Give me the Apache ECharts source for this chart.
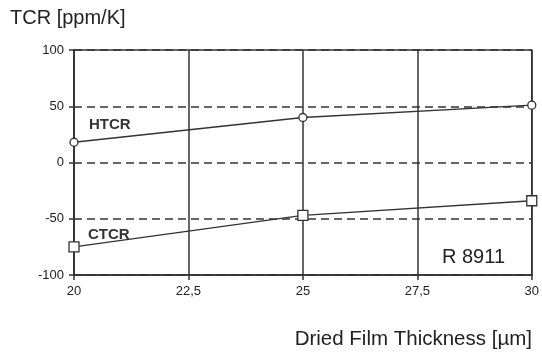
<!DOCTYPE html>
<html><head><meta charset="utf-8">
<script src="https://cdn.jsdelivr.net/npm/echarts@6/dist/echarts.min.js"></script>
<style>html,body{margin:0;padding:0;background:#fff}#c{width:542px;height:356px}</style>
</head><body><div id="c"></div>
<script>
const thickness = [20, 25, 30];
const htcr = [18, 40, 51];
const ctcr = [-75, -47, -34];
const xTicks = ['20', '22,5', '25', '27,5', '30'];
const yTicks = [-100, -50, 0, 50, 100];

const ink = '#333';
const font = 'Liberation Sans, Arial, sans-serif';
const chart = echarts.init(document.getElementById('c'));
chart.setOption({
  animation: false,
  grid: {left: 74, right: 10, top: 50, bottom: 81, show: true, borderColor: ink, borderWidth: 1.5},
  xAxis: {
    type: 'value', min: 20, max: 30, interval: 2.5,
    axisLine: {show: true, onZero: false, lineStyle: {color: ink, width: 1.5}},
    axisTick: {show: true, length: 5, lineStyle: {color: ink, width: 1.5}},
    axisLabel: {color: '#222', fontSize: 13, fontFamily: font, margin: 10,
      formatter: v => xTicks[Math.round((v - 20) / 2.5)]},
    splitLine: {show: true, lineStyle: {color: ink, width: 1.5}}
  },
  yAxis: {
    type: 'value', min: -100, max: 100, interval: 50,
    axisLine: {show: true, onZero: false, lineStyle: {color: ink, width: 1.5}},
    axisTick: {show: true, length: 5, lineStyle: {color: ink, width: 1.5}},
    axisLabel: {color: '#222', fontSize: 13, fontFamily: font, margin: 10,
      formatter: v => String(yTicks[yTicks.indexOf(v)])},
    splitLine: {show: true, lineStyle: {color: ink, width: 1.5, type: [8, 5]}}
  },
  graphic: [
    {type: 'text', left: 10, top: 8, style: {text: 'TCR [ppm/K]', fontSize: 20, fill: '#222', fontFamily: font}},
    {type: 'text', right: 10, top: 329, style: {text: 'Dried Film Thickness [µm]', fontSize: 20.5, fill: '#222', fontFamily: font}},
    {type: 'text', left: 89, top: 117, style: {text: 'HTCR', fontSize: 15, fontWeight: 'bold', fill: '#333', fontFamily: font}},
    {type: 'text', left: 88, top: 227, style: {text: 'CTCR', fontSize: 15, fontWeight: 'bold', fill: '#333', fontFamily: font}},
    {type: 'text', left: 442, top: 247, style: {text: 'R 8911', fontSize: 20, fill: '#222', fontFamily: font}}
  ],
  series: [
    {type: 'line', data: thickness.map((x, i) => [x, htcr[i]]), symbol: 'circle', symbolSize: 8,
     lineStyle: {color: ink, width: 1.5}, itemStyle: {color: '#fff', borderColor: ink, borderWidth: 1.3}, z: 5},
    {type: 'line', data: thickness.map((x, i) => [x, ctcr[i]]), symbol: 'rect', symbolSize: 10,
     lineStyle: {color: ink, width: 1.5}, itemStyle: {color: '#fff', borderColor: ink, borderWidth: 1.3}, z: 5}
  ]
});
</script></body></html>
